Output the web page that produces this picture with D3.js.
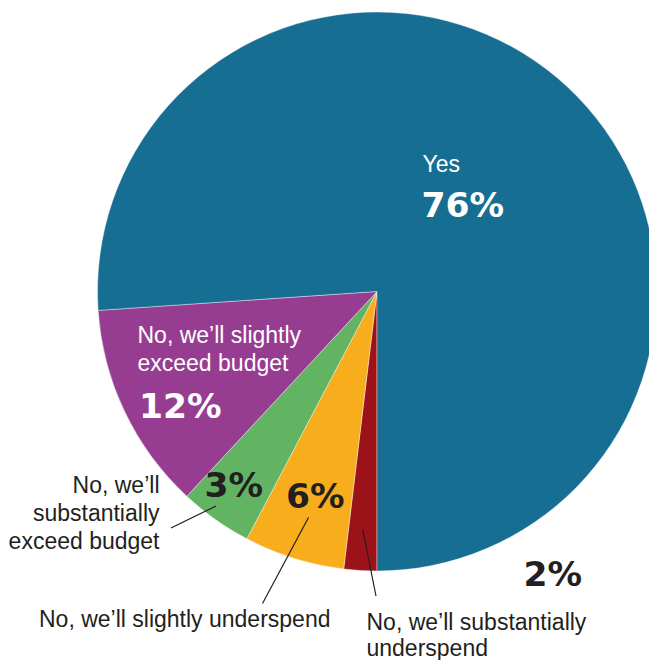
<!DOCTYPE html>
<html>
<head>
<meta charset="utf-8">
<script src="https://cdn.jsdelivr.net/npm/d3@7"></script>
<style>
  html, body { margin: 0; padding: 0; background: #ffffff; overflow: hidden; }
  svg { display: block; }
</style>
</head>
<body>
<svg id="chart" width="649" height="660"></svg>
<script>
// ---- data ----
const categories = [
  "No, we’ll substantially underspend",
  "No, we’ll slightly underspend",
  "No, we’ll substantially exceed budget",
  "No, we’ll slightly exceed budget",
  "Yes"
];
const values = [1.9, 5.8, 4.2, 12.0, 76.0];
const pctLabels = ["2%", "6%", "3%", "12%", "76%"];
const colors = ["#9b1218", "#f8ad1c", "#62b463", "#963d91", "#176e93"];

// ---- layout ----
const W = 649, H = 660;
const cx = 377, cy = 291.5, R = 279.5;
const dark = "#231f20";
const labelFont = "'Liberation Sans', Arial, Helvetica, sans-serif";
const pctFont = "'DejaVu Sans', sans-serif";

const svg = d3.select("#chart");

const pie = d3.pie().sort(null).startAngle(Math.PI).endAngle(3 * Math.PI).value(d => d);
const arcs = pie(values);
const arc = d3.arc().innerRadius(0).outerRadius(R);

const g = svg.append("g").attr("transform", `translate(${cx},${cy})`);
g.selectAll("path.slice")
  .data(arcs)
  .join("path")
  .attr("class", "slice")
  .attr("d", arc)
  .attr("fill", (d, i) => colors[i])
  .attr("stroke", "#ffffff")
  .attr("stroke-width", 0.4);

// leader lines (layout)
const leaders = [
  { i: 2, x1: 216, y1: 506, x2: 171, y2: 528 },
  { i: 1, x1: 308.5, y1: 517.5, x2: 262.5, y2: 603.5 },
  { i: 0, x1: 362.7, y1: 529.3, x2: 376, y2: 596 }
];
svg.selectAll("line.leader")
  .data(leaders)
  .join("line")
  .attr("class", "leader")
  .attr("x1", d => d.x1).attr("y1", d => d.y1)
  .attr("x2", d => d.x2).attr("y2", d => d.y2)
  .attr("stroke", dark)
  .attr("stroke-width", 1.2);

// category labels (layout)
const catLayout = [
  { i: 4, x: 422.5, y: 171.5, lh: 28.3, anchor: "start", fill: "#ffffff", lines: ["Yes"] },
  { i: 3, x: 137.5, y: 342.5, lh: 28.3, anchor: "start", fill: "#ffffff", lines: ["No, we’ll slightly", "exceed budget"] },
  { i: 2, x: 159.5, y: 492.5, lh: 28.3, anchor: "end", fill: dark, lines: ["No, we’ll", "substantially", "exceed budget"] },
  { i: 1, x: 39, y: 626.5, lh: 28.3, anchor: "start", fill: dark, lines: ["No, we’ll slightly underspend"] },
  { i: 0, x: 366.5, y: 630, lh: 25.5, anchor: "start", fill: dark, lines: ["No, we’ll substantially", "underspend"] }
];
catLayout.forEach(c => {
  const t = svg.append("text")
    .attr("x", c.x).attr("y", c.y)
    .attr("text-anchor", c.anchor)
    .attr("fill", c.fill)
    .attr("font-family", labelFont)
    .attr("font-size", 23);
  c.lines.forEach((ln, k) => {
    t.append("tspan").attr("x", c.x).attr("y", c.y + k * c.lh).text(ln);
  });
});

// percentage labels (layout)
const pctLayout = [
  { i: 4, x: 421.5, y: 216.5, fill: "#ffffff" },
  { i: 3, x: 139, y: 417.5, fill: "#ffffff" },
  { i: 2, x: 204.5, y: 496.5, fill: dark },
  { i: 1, x: 286, y: 507.5, fill: dark },
  { i: 0, x: 523.5, y: 585.5, fill: dark }
];
svg.selectAll("text.pct")
  .data(pctLayout)
  .join("text")
  .attr("class", "pct")
  .attr("x", d => d.x).attr("y", d => d.y)
  .attr("fill", d => d.fill)
  .attr("font-family", pctFont)
  .attr("font-weight", "bold")
  .attr("font-size", 34.5)
  .text(d => pctLabels[d.i]);
</script>
</body>
</html>
